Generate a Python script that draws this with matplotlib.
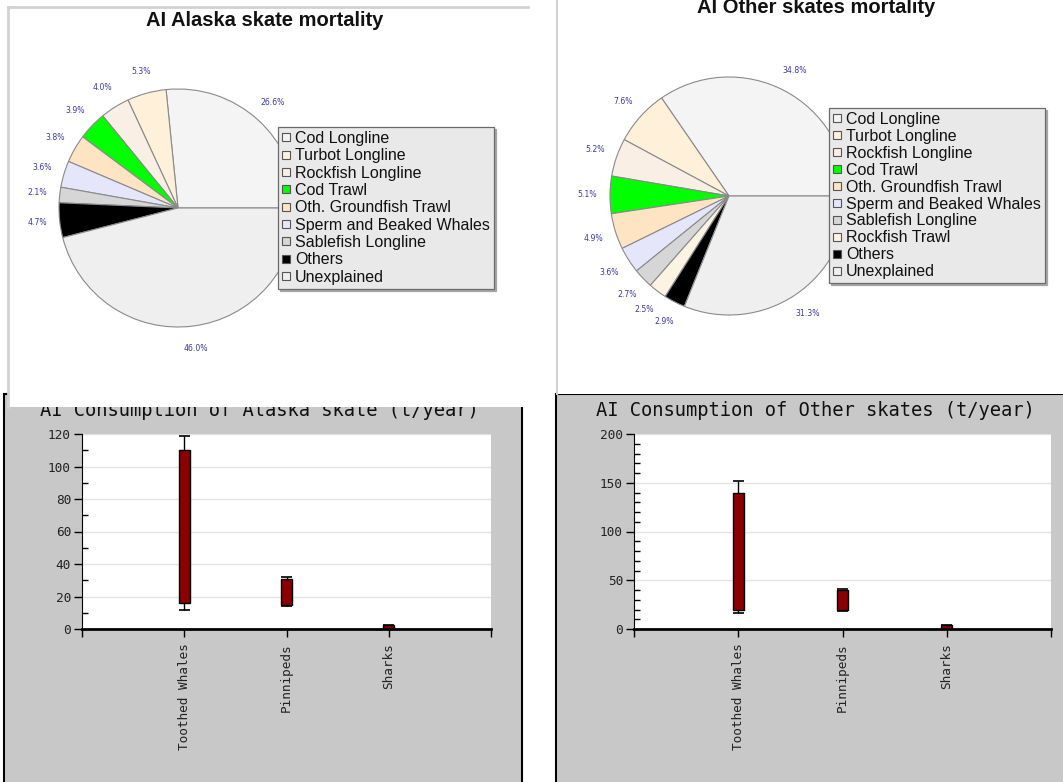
import matplotlib
matplotlib.use("Agg")
import matplotlib.pyplot as plt
from matplotlib.lines import Line2D
import numpy as np

W, H = 1063, 782

# ---------------- data ----------------
alaska_labels = ["Cod Longline", "Turbot Longline", "Rockfish Longline", "Cod Trawl",
                 "Oth. Groundfish Trawl", "Sperm and Beaked Whales", "Sablefish Longline",
                 "Others", "Unexplained"]
alaska_pct = [26.6, 5.3, 4.0, 3.9, 3.8, 3.6, 2.1, 4.7, 46.0]
alaska_colors = ["#f4f4f4", "#fff0d9", "#f9efe4", "#00ff00", "#ffe4c4", "#e6e6fa",
                 "#d6d6d6", "#000000", "#efefef"]

other_labels = ["Cod Longline", "Turbot Longline", "Rockfish Longline", "Cod Trawl",
                "Oth. Groundfish Trawl", "Sperm and Beaked Whales", "Sablefish Longline",
                "Rockfish Trawl", "Others", "Unexplained"]
other_pct = [34.8, 7.6, 5.2, 5.1, 4.9, 3.6, 2.7, 2.5, 2.9, 31.3]
other_colors = ["#f4f4f4", "#fff0d9", "#f9efe4", "#00ff00", "#ffe4c4", "#e6e6fa",
                "#d6d6d6", "#fdf3e3", "#000000", "#efefef"]

predators = ["Toothed Whales", "Pinnipeds", "Sharks"]
# box (q1, q3) and whiskers (lo, hi), t/year
alaska_q1 = [16, 15, 0]
alaska_q3 = [110, 31, 2.5]
alaska_lo = [12, 14, 0]
alaska_hi = [118.5, 32, 2.5]

other_q1 = [20, 19, 0]
other_q3 = [139, 40, 4]
other_lo = [16.5, 18, 0]
other_hi = [152, 41.5, 4]

# ---------------- helpers ----------------
fig = plt.figure(figsize=(W / 100, H / 100), dpi=100)
fig.patch.set_facecolor("white")


def rect(x0, y0, x1, y1):
    return [x0 / W, 1 - y1 / H, (x1 - x0) / W, (y1 - y0) / H]


def panel(x0, y0, x1, y1, face, edge, lw, sides, z):
    a = fig.add_axes(rect(x0, y0, x1, y1), zorder=z)
    a.set_facecolor(face)
    a.set_xticks([])
    a.set_yticks([])
    for s, sp in a.spines.items():
        if s in sides:
            sp.set_color(edge)
            sp.set_linewidth(lw)
        else:
            sp.set_visible(False)
    return a


MONO = "DejaVu Sans Mono"
SANS = "Liberation Sans"


def bar_chart(bg, box, title, tx, ty, q1, q3, lo, hi, ymax, major, minor, z):
    bg.text(tx / W, 1 - ty / H, title, transform=fig.transFigure, ha="center",
            va="baseline", fontsize=13.5, family=MONO, color="#111111")
    ax = fig.add_axes(rect(*box), zorder=z)
    ax.set_facecolor("white")
    x = np.arange(1, len(predators) + 1)
    heights = [b - a for a, b in zip(q1, q3)]
    w = 0.105
    ax.bar(x, heights, bottom=q1, width=w, color="#8b0000", edgecolor="black",
           linewidth=1.0, zorder=3)
    for xi, a, b, l, h in zip(x, q1, q3, lo, hi):
        if h > b:
            ax.vlines(xi, b, h, color="black", lw=1, zorder=2)
        if l < a:
            ax.vlines(xi, l, a, color="black", lw=1, zorder=2)
        ax.hlines([l, h], xi - w / 2, xi + w / 2, color="black", lw=1.2, zorder=4)
    ax.set_xlim(0, 4)
    ax.set_ylim(0, ymax)
    ax.set_yticks(np.arange(0, ymax + 1, major))
    ax.set_yticks(np.arange(0, ymax + 1, minor), minor=True)
    ax.set_xticks([0, 1, 2, 3, 4])
    ax.set_xticklabels([""] + predators + [""], rotation=90, family=MONO,
                       fontsize=9.2, color="#222222")
    for lab in ax.get_yticklabels():
        lab.set_family(MONO)
        lab.set_fontsize(9.2)
        lab.set_color("#222222")
    ax.tick_params(axis="y", which="major", direction="out", length=6, width=1, pad=2)
    ax.tick_params(axis="y", which="minor", direction="in", length=4, width=1)
    ax.tick_params(axis="x", direction="out", length=6, width=1, pad=4)
    ax.yaxis.grid(True, which="major", color="#e2e2e2", lw=1)
    ax.set_axisbelow(True)
    ax.spines["top"].set_visible(False)
    ax.spines["right"].set_visible(False)
    ax.spines["left"].set_color("black")
    ax.spines["bottom"].set_linewidth(2)
    return ax


def pie_chart(bg, cx, cy, R, pct, colors, labels, title, tx, ty, leg_xy, spacing, z):
    bg.text(tx / W, 1 - ty / H, title, transform=fig.transFigure, ha="center",
            va="baseline", fontsize=14.5, family=SANS, weight="bold", color="#111111")
    S = 1.45
    ax = fig.add_axes(rect(cx - S * R, cy - S * R, cx + S * R, cy + S * R), zorder=z)
    ax.set_facecolor("none")
    wedges, _ = ax.pie(pct, colors=colors, startangle=0, counterclock=True,
                       wedgeprops=dict(edgecolor="#8a8a8a", linewidth=0.8))
    ax.set_xlim(-S, S)
    ax.set_ylim(-S, S)
    ax.set_aspect("equal")
    ax.axis("off")
    for wdg, p in zip(wedges, pct):
        mid = np.deg2rad((wdg.theta1 + wdg.theta2) / 2)
        ax.text(1.19 * np.cos(mid), 1.19 * np.sin(mid), f"{p:.1f}%", ha="center",
                va="center", fontsize=5.6, color="#3a3aa8", family="DejaVu Sans")
    handles = [Line2D([], [], marker="s", ls="none", markersize=5.2,
                      markerfacecolor=c, markeredgecolor="#555555", markeredgewidth=0.8)
               for c in colors]
    leg = ax.legend(handles, labels, loc="upper left",
                    bbox_to_anchor=(leg_xy[0] / W, 1 - leg_xy[1] / H),
                    bbox_transform=fig.transFigure, prop=dict(family=SANS, size=11.5),
                    frameon=True, fancybox=False, handlelength=0.55, handletextpad=0.25,
                    labelspacing=spacing, borderpad=0.25, borderaxespad=0,
                    shadow=dict(color="#a0a0a0", alpha=0.9, ox=1.5, oy=-1.5))
    fr = leg.get_frame()
    fr.set_facecolor("#e9e9e9")
    fr.set_edgecolor("#6a6a6a")
    fr.set_linewidth(0.9)
    fr.set_alpha(1)
    for t in leg.get_texts():
        t.set_color("#111111")
    return ax


# ---------------- bottom panels ----------------
bg_bl = panel(4, 394, 522, 790, "#c8c8c8", "black", 1.5, ("left", "right", "top"), 0)
bg_br = panel(556, 394, 1070, 790, "#c8c8c8", "black", 1.5, ("left", "top"), 0)

bar_chart(bg_bl, (82, 434, 491, 629), "AI Consumption of Alaska skate (t/year)", 259, 416,
          alaska_q1, alaska_q3, alaska_lo, alaska_hi, 120, 20, 10, 1)
bar_chart(bg_br, (634, 434, 1051, 629), "AI Consumption of Other skates (t/year)", 815, 416,
          other_q1, other_q3, other_lo, other_hi, 200, 50, 10, 1)

# ---------------- top panels ----------------
bg_tl = panel(8, 7, 528, 407, "white", "#d2d2d2", 2.0, ("left", "top"), 5)
bg_tr = panel(557, -5, 1070, 394, "white", "#d2d2d2", 1.5, ("left",), 5)

pie_chart(bg_tl, 178, 208, 119, alaska_pct, alaska_colors, alaska_labels,
          "AI Alaska skate mortality", 265, 26, (278, 127), 0.145, 6)
pie_chart(bg_tr, 729, 196, 119, other_pct, other_colors, other_labels,
          "AI Other skates mortality", 816, 13, (829, 108), 0.12, 6)

fig.savefig("out.png", dpi=100)
